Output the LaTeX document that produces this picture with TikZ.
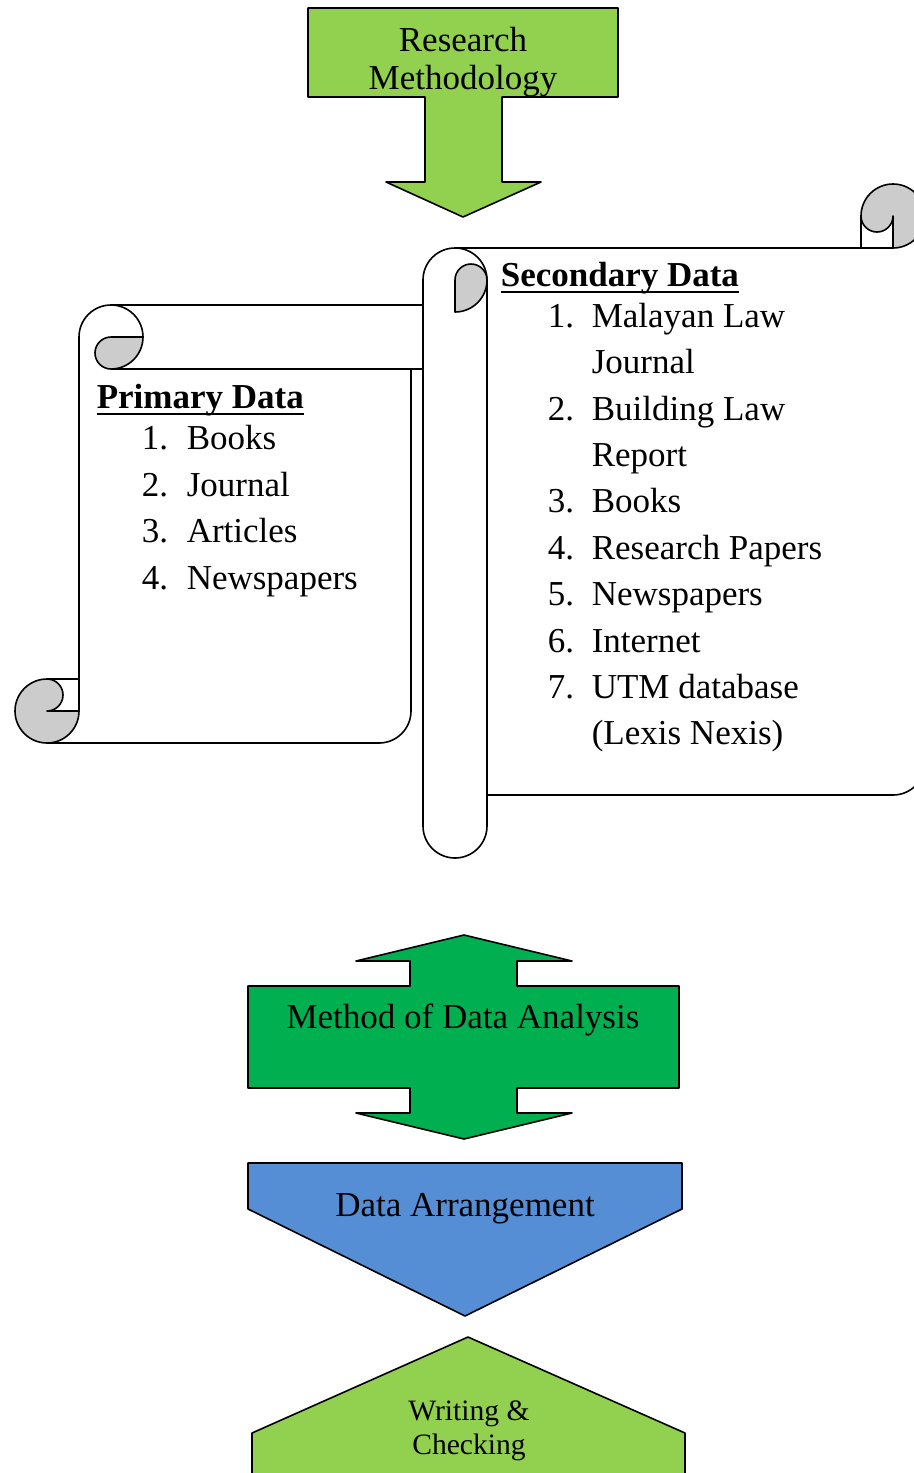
\documentclass[tikz,border=0pt]{standalone}
\usepackage{fontspec}
\setmainfont{Liberation Serif}
\definecolor{leafgreen}{HTML}{92D050}
\definecolor{deepgreen}{HTML}{00B050}
\definecolor{skyblue}{HTML}{558ED5}
\definecolor{curlgray}{HTML}{CCCCCC}
% bold heading with a heavier underline for the scrolls
\newcommand{\headline}[1]{\setbox0\hbox{\textbf{#1}}\rlap{\rule[-3.6pt]{\wd0}{1.3pt}}\box0}
\begin{document}
\begin{tikzpicture}[x=0.5pt,y=-0.5pt,line width=0.8pt,line join=round,
  curl/.style={fill=curlgray,draw=black},
  txt/.style={font=\fontsize{17.5}{21}\selectfont,inner sep=0pt,anchor=base},
  txtl/.style={txt,anchor=base west},
  smalltxt/.style={font=\fontsize{14.8}{17}\selectfont,inner sep=0pt,anchor=base}]
\useasboundingbox (0,0) rectangle (914,1473);
\clip (0,0) rectangle (914,1473);

% ---- top arrow: Research Methodology
\draw[fill=leafgreen] (308,8) -- (618,8) -- (618,97) -- (502,97) -- (502,182)
  -- (541,182) -- (463,217) -- (386,182) -- (425,182) -- (425,97) -- (308,97) -- cycle;
\node[txt] (rm1) at (463,51) {Research};
\node[txt] (rm2) at (463,89) {Methodology};

% ---- primary data scroll (horizontal scroll)
\draw (111,305) -- (470,305);
\draw (111,369) -- (470,369);
\draw (143,337) arc[start angle=0,end angle=-180,radius=32] -- (79,711);
\draw[curl] (111,369) arc[start angle=90,end angle=270,radius=16] -- (143,337)
  arc[start angle=0,end angle=90,radius=32] -- cycle;
\draw[curl] (47,679) arc[start angle=270,end angle=0,radius=32] -- (47,711)
  arc[start angle=90,end angle=-90,radius=16] -- cycle;
\draw (47,679) -- (79,679);
\draw (47,743) -- (379,743) arc[start angle=90,end angle=0,radius=32] -- (411,369);

\node[txtl] (pdhead) at (96,408) {\headline{Primary Data}};
\node[txtl] (pn1) at (141,449) {1.};  \node[txtl] (pi1) at (186,449) {Books};
\node[txtl] (pn2) at (141,496) {2.};  \node[txtl] (pi2) at (186,496) {Journal};
\node[txtl] (pn3) at (141,542) {3.};  \node[txtl] (pi3) at (186,542) {Articles};
\node[txtl] (pn4) at (141,589) {4.};  \node[txtl] (pi4) at (186,589) {Newspapers};

% ---- secondary data scroll (vertical scroll), lies over the primary one
\fill[white] (455,280) circle[radius=32];
\fill[white] (423,280) rectangle (487,826);
\fill[white] (455,826) circle[radius=32];
\fill[white] (487,248) -- (925,248) -- (925,763) arc[start angle=0,end angle=90,radius=32]
  -- (487,795) -- cycle;
\fill[white] (893,216) circle[radius=32];

\draw (487,280) arc[start angle=0,end angle=-180,radius=32] -- (423,826)
  arc[start angle=180,end angle=0,radius=32] -- (487,280);
\draw[curl] (455,312) -- (455,280) arc[start angle=180,end angle=360,radius=16]
  arc[start angle=0,end angle=90,radius=32] -- cycle;
\draw (455,248) -- (893,248);
\draw (487,795) -- (893,795) arc[start angle=90,end angle=0,radius=32] -- (925,216);
\draw[curl] (861,216) arc[start angle=180,end angle=450,radius=32] -- (893,216)
  arc[start angle=0,end angle=180,radius=16] -- cycle;
\draw (861,216) -- (861,248);
\draw (893,216) -- (893,248);

\node[txtl] (sdhead) at (500,286) {\headline{Secondary Data}};
\node[txtl] (sn1) at (547,327) {1.};  \node[txtl] (si1) at (591,327) {Malayan Law};
\node[txtl] (si1b) at (591,373) {Journal};
\node[txtl] (sn2) at (547,420) {2.};  \node[txtl] (si2) at (591,420) {Building Law};
\node[txtl] (si2b) at (591,466) {Report};
\node[txtl] (sn3) at (547,512) {3.};  \node[txtl] (si3) at (591,512) {Books};
\node[txtl] (sn4) at (547,559) {4.};  \node[txtl] (si4) at (591,559) {Research Papers};
\node[txtl] (sn5) at (547,605) {5.};  \node[txtl] (si5) at (591,605) {Newspapers};
\node[txtl] (sn6) at (547,652) {6.};  \node[txtl] (si6) at (591,652) {Internet};
\node[txtl] (sn7) at (547,698) {7.};  \node[txtl] (si7) at (591,698) {UTM database};
\node[txtl] (si7b) at (591,744) {(Lexis Nexis)};

% ---- double arrow: Method of Data Analysis
\draw[fill=deepgreen] (464,935) -- (572,961) -- (517,961) -- (517,986) -- (679,986)
  -- (679,1088) -- (517,1088) -- (517,1113) -- (572,1113) -- (464,1139) -- (356,1113)
  -- (410,1113) -- (410,1088) -- (248,1088) -- (248,986) -- (410,986) -- (410,961)
  -- (356,961) -- cycle;
\node[txt] (mda) at (463,1028) {Method of Data Analysis};

% ---- chevron: Data Arrangement
\draw[fill=skyblue] (248,1163) -- (682,1163) -- (682,1209) -- (465,1316) -- (248,1209) -- cycle;
\node[txt] (arr) at (465,1216) {Data Arrangement};

% ---- pentagon: Writing & Checking
\draw[fill=leafgreen] (468,1337) -- (685,1433) -- (685,1500) -- (252,1500) -- (252,1433) -- cycle;
\node[smalltxt] (wc1) at (469,1420) {Writing \&};
\node[smalltxt] (wc2) at (469,1454) {Checking};
\end{tikzpicture}
\end{document}
